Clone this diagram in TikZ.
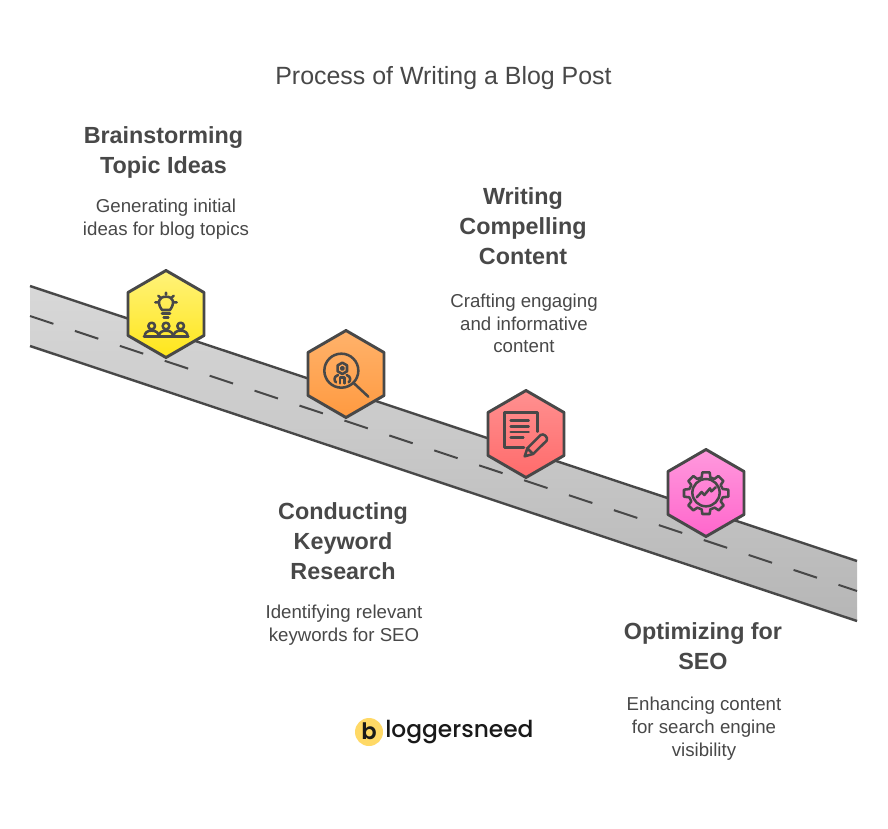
\documentclass[tikz,border=0pt]{standalone}
\usepackage{fontspec}
\setmainfont{Liberation Sans}
\newfontfamily\logofont{Poppins Medium}
\newfontfamily\logobold{Poppins SemiBold}
\definecolor{ink}{HTML}{484848}
\definecolor{yelA}{HTML}{FFF27A}\definecolor{yelB}{HTML}{FFE61A}
\definecolor{oraA}{HTML}{FFB26B}\definecolor{oraB}{HTML}{FF9A40}
\definecolor{redA}{HTML}{FF9090}\definecolor{redB}{HTML}{FF6B6B}
\definecolor{pinA}{HTML}{FF99DD}\definecolor{pinB}{HTML}{FF66CC}
\definecolor{roadA}{HTML}{D8D8D8}\definecolor{roadB}{HTML}{B6B6B6}
\definecolor{logoY}{HTML}{FFD966}
\tikzset{
  titlelabel/.style={text=ink,font=\fontsize{18.7}{22}\selectfont,align=center},
  headlabel/.style={text=ink,font=\fontsize{17.5}{22.5}\selectfont\bfseries,align=center},
  bodylabel/.style={text=ink,font=\fontsize{14}{17}\selectfont,align=center},
  hexa/.style={draw=ink,line width=2.2pt,line join=round},
  icon/.style={draw=ink,line width=1.9pt,line cap=round,line join=round},
  roadedge/.style={draw=ink,line width=1.8pt},
  roadmark/.style={draw=ink,line width=1.5pt,dash pattern=on 18.5pt off 17pt},
}
\newcommand{\hexagon}[5]{% x, y, top colour, bottom colour, name
  \path[hexa,top color=#3,bottom color=#4]
    (#1,#2-43.5) -- (#1+38,#2-21.5) -- (#1+38,#2+21.5) -- (#1,#2+43.5)
    -- (#1-38,#2+21.5) -- (#1-38,#2-21.5) -- cycle;
  \coordinate (#5) at (#1,#2);
}
\begin{document}
\begin{tikzpicture}[x=0.75pt,y=-0.75pt]
\useasboundingbox (0,0) rectangle (888,828);
\fill[white] (0,0) rectangle (888,828);
% road
\shade[top color=roadA,bottom color=roadB,shading angle=0]
  (30,286) -- (857,561) -- (857,621) -- (30,346) -- cycle;
\path[roadedge] (30,286) -- (857,561);
\path[roadedge] (30,346) -- (857,621);
\path[roadmark] (30,316) -- (857,591);
% hexagons
\hexagon{166}{314}{yelA}{yelB}{hexA}
\hexagon{346}{374}{oraA}{oraB}{hexB}
\hexagon{526}{434}{redA}{redB}{hexC}
\hexagon{706}{493}{pinA}{pinB}{hexD}
% icon 1
\begin{scope}[shift={(110,260)},x=0.25pt,y=-0.25pt]
  \path[icon] (156,150) .. controls (140,128) and (146,110) .. (168,110)
     .. controls (190,110) and (196,128) .. (180,150) -- cycle;
  \path[icon] (156,161) -- (180,161) (161,172) -- (175,172);
  \path[icon] (168,98) -- (168,104) (145,107) -- (151,113) (191,107) -- (185,113)
     (136,127) -- (144,127) (192,127) -- (200,127);
  \foreach \cx in {125,168,212}{
    \path[icon] (\cx,198) circle[radius=10];
    \path[icon] (\cx-21,229) .. controls (\cx-21,217) and (\cx-12,212) .. (\cx,212)
       .. controls (\cx+12,212) and (\cx+21,217) .. (\cx+21,229);
  }
  \path[icon] (102,230) -- (235,230);
\end{scope}
% icon 2
\begin{scope}[shift={(290,320)},x=0.25pt,y=-0.25pt]
  \path[icon] (154,152) circle[radius=51];
  \path[icon] (192,190) -- (235,230);
  \path[icon] (157,128) -- (171,136) -- (171,154) -- (157,162) -- (143,154) -- (143,136) -- cycle;
  \path[icon] (157,145) circle[radius=4];
  \path[icon] (144,165) .. controls (130,170) and (132,182) .. (138,187);
  \path[icon] (170,165) .. controls (184,170) and (182,182) .. (176,187);
  \path[icon] (150,190) -- (150,172) -- (164,172) -- (164,190);
\end{scope}
% icon 3
\begin{scope}[shift={(470,380)},x=0.25pt,y=-0.25pt]
  \path[icon] (202,155) -- (202,98) -- (104,98) -- (104,202) -- (162,202);
  \path[icon] (122,122) -- (176,122) (122,140) -- (176,140) (122,156) -- (176,156) (122,172) -- (160,172);
  \path[icon] (164,229) -- (172,205) -- (212,165) .. controls (220,158) and (236,172) .. (230,182)
     -- (189,222) -- cycle;
  \path[icon] (172,205) -- (189,222);
\end{scope}
% icon 4
\begin{scope}[shift={(650,440)},x=0.25pt,y=-0.25pt]
  \path[icon] (168,158) circle[radius=41];
  \path[icon] (140,172) -- (155,156) -- (163,165) -- (180,145) -- (184,154) -- (197,142);
  \path[icon] (157,97) -- (179,97) -- (181,112) -- (193,117) -- (205,108) -- (220,123) -- (212,135)
     -- (218,147) -- (235,149) -- (235,170) -- (218,172) -- (212,184) -- (221,196) -- (206,211)
     -- (194,203) -- (181,208) -- (179,222) -- (157,222) -- (155,208) -- (142,203) -- (130,211)
     -- (115,196) -- (124,184) -- (118,172) -- (102,170) -- (102,149) -- (118,147) -- (124,135)
     -- (115,123) -- (130,108) -- (142,117) -- (155,112) -- cycle;
\end{scope}
% labels
\node[titlelabel] (title) at (443.5,78) {Process of Writing a Blog Post};
\node[headlabel] (h1) at (163.5,152) {Brainstorming\\Topic Ideas};
\node[bodylabel] (b1) at (166,219.5) {Generating initial\\ideas for blog topics};
\node[headlabel] (h2) at (343,541.5) {Conducting\\Keyword\\Research};
\node[bodylabel] (b2) at (344,625) {Identifying relevant\\keywords for SEO};
\node[headlabel] (h3) at (523,226.5) {Writing\\Compelling\\Content};
\node[bodylabel] (b3) at (524,323.5) {Crafting engaging\\and informative\\content};
\node[headlabel] (h4) at (703,646) {Optimizing for\\SEO};
\node[bodylabel] (b4) at (704,728.5) {Enhancing content\\for search engine\\visibility};
% logo
\fill[logoY] (369,732) circle[radius=14];
\node[text=black!90,font=\logobold\fontsize{17}{18}\selectfont] (logob) at (369,731.5) {b};
\node[anchor=west,inner sep=0pt,text=black!90,font=\logofont\fontsize{17.5}{20}\selectfont] (logot) at (385,732) {loggersneed};
\end{tikzpicture}
\end{document}
